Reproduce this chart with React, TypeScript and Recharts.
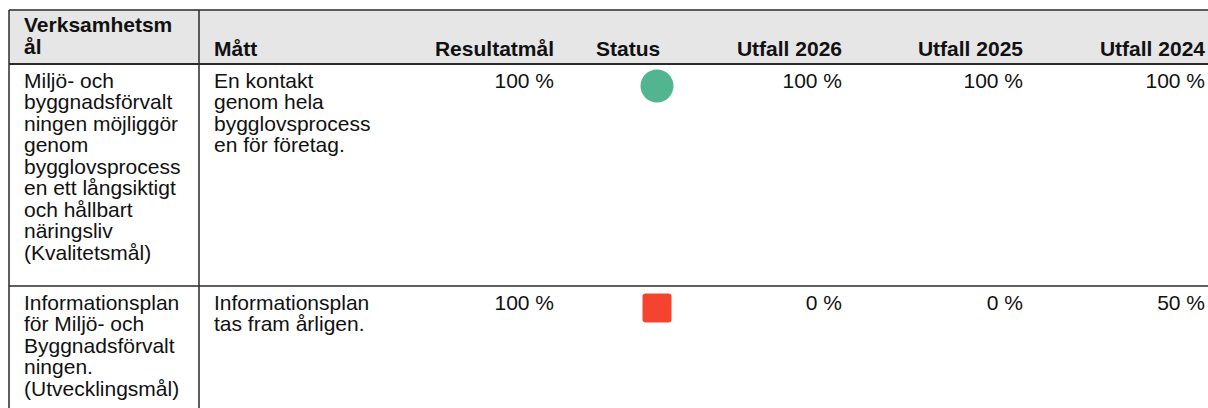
import React from "react";
import { ScatterChart, Scatter, XAxis, YAxis, ReferenceArea, ReferenceLine } from "recharts";

// ---- data ----
const headerLabels: string[][] = [
  ["Verksamhetsm", "ål"],
  ["Mått"],
  ["Resultatmål"],
  ["Status"],
  ["Utfall 2026"],
  ["Utfall 2025"],
  ["Utfall 2024"],
];
const goals: string[][] = [
  ["Miljö- och", "byggnadsförvalt", "ningen möjliggör", "genom", "bygglovsprocess", "en ett långsiktigt", "och hållbart", "näringsliv", "(Kvalitetsmål)"],
  ["Informationsplan", "för Miljö- och", "Byggnadsförvalt", "ningen.", "(Utvecklingsmål)"],
];
const measures: string[][] = [
  ["En kontakt", "genom hela", "bygglovsprocess", "en för företag."],
  ["Informationsplan", "tas fram årligen."],
];
const targets = [100, 100];
const statuses = ["achieved", "notAchieved"];
const outcome2026 = [100, 0];
const outcome2025 = [100, 0];
const outcome2024 = [100, 50];

// ---- layout ----
const W = 1208;
const H = 408;
const LEFT = 9;
const TOP = 10;
const HEADER_BOTTOM = 64;
const ROW_TOPS = [64, 286];
const COL_DIV = 199;
const FONT = "'Liberation Sans', Arial, Helvetica, sans-serif";
const FS = 21;
const LH = 21.5;
const FIRST_BASE = 23.5;

type Anchor = "start" | "middle" | "end";
const headerPos: { x: number; anchor: Anchor }[] = [
  { x: 24, anchor: "start" },
  { x: 214, anchor: "start" },
  { x: 554, anchor: "end" },
  { x: 596, anchor: "start" },
  { x: 842, anchor: "end" },
  { x: 1023, anchor: "end" },
  { x: 1205, anchor: "end" },
];
const STATUS_X = 657;
const STATUS_DY = 22;

const pct = (v: number) => `${v} %`;

const headerData = headerLabels.map((lines, i) => ({
  x: headerPos[i].x,
  y: lines.length === 2 ? 32 : 55.5,
  lines,
  anchor: headerPos[i].anchor,
  bold: true,
}));

const bodyData: any[] = [];
ROW_TOPS.forEach((top, r) => {
  const y = top + FIRST_BASE;
  bodyData.push({ x: headerPos[0].x, y, lines: goals[r], anchor: "start" });
  bodyData.push({ x: headerPos[1].x, y, lines: measures[r], anchor: "start" });
  bodyData.push({ x: headerPos[2].x, y, lines: [pct(targets[r])], anchor: "end" });
  bodyData.push({ x: headerPos[4].x, y, lines: [pct(outcome2026[r])], anchor: "end" });
  bodyData.push({ x: headerPos[5].x, y, lines: [pct(outcome2025[r])], anchor: "end" });
  bodyData.push({ x: headerPos[6].x, y, lines: [pct(outcome2024[r])], anchor: "end" });
});

const statusData = ROW_TOPS.map((top, r) => ({ x: STATUS_X, y: top + STATUS_DY, status: statuses[r] }));

const TextCell = (props: any) => {
  const { cx, cy, payload } = props;
  return (
    <g>
      {payload.lines.map((l: string, i: number) => (
        <text
          key={i}
          x={cx}
          y={cy + i * LH}
          textAnchor={payload.anchor}
          fontFamily={FONT}
          fontSize={FS}
          fontWeight={payload.bold ? 700 : 400}
          fill="#111"
        >
          {l}
        </text>
      ))}
    </g>
  );
};

const StatusMark = (props: any) => {
  const { cx, cy, payload } = props;
  if (payload.status === "achieved") {
    return <circle cx={cx} cy={cy} r={16.5} fill="#53b58f" />;
  }
  return <rect x={cx - 14.5} y={cy - 14.5} width={29} height={29} rx={3} fill="#f44430" />;
};

const lineStyle = { stroke: "#2a2a2a" };

export default function App() {
  return (
    <div style={{ position: "absolute", left: 0, top: 0, width: W, height: H, background: "#fff" }}>
      <ScatterChart width={W} height={H} margin={{ top: 0, right: 0, bottom: 0, left: 0 }}>
        <XAxis type="number" dataKey="x" domain={[0, W]} hide allowDataOverflow />
        <YAxis type="number" dataKey="y" domain={[0, H]} reversed hide allowDataOverflow />
        <ReferenceArea x1={LEFT} x2={W} y1={TOP} y2={HEADER_BOTTOM} fill="#e6e6e6" fillOpacity={1} stroke="none" ifOverflow="visible" />
        <ReferenceLine segment={[{ x: LEFT, y: TOP }, { x: W, y: TOP }]} {...lineStyle} strokeWidth={1.5} ifOverflow="visible" />
        <ReferenceLine segment={[{ x: LEFT, y: HEADER_BOTTOM }, { x: W, y: HEADER_BOTTOM }]} {...lineStyle} strokeWidth={2} ifOverflow="visible" />
        <ReferenceLine segment={[{ x: LEFT, y: ROW_TOPS[1] }, { x: W, y: ROW_TOPS[1] }]} {...lineStyle} strokeWidth={1.5} ifOverflow="visible" />
        <ReferenceLine segment={[{ x: LEFT, y: TOP }, { x: LEFT, y: H }]} {...lineStyle} strokeWidth={1.5} ifOverflow="visible" />
        <ReferenceLine segment={[{ x: COL_DIV, y: TOP }, { x: COL_DIV, y: H }]} {...lineStyle} strokeWidth={1.5} ifOverflow="visible" />
        <Scatter data={headerData} shape={TextCell} isAnimationActive={false} />
        <Scatter data={bodyData} shape={TextCell} isAnimationActive={false} />
        <Scatter data={statusData} shape={StatusMark} isAnimationActive={false} />
      </ScatterChart>
    </div>
  );
}
